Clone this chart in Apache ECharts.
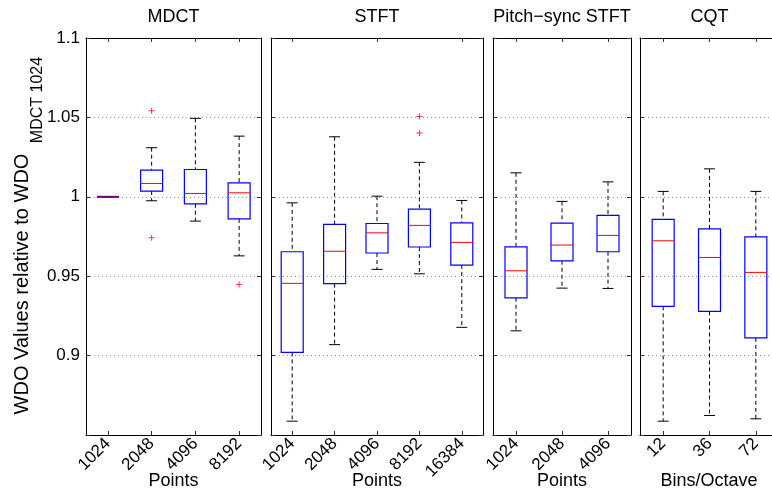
<!DOCTYPE html>
<html>
<head>
<meta charset="utf-8">
<script src="https://cdn.jsdelivr.net/npm/echarts@6/dist/echarts.min.js"></script>
<style>
  html, body { margin: 0; padding: 0; background: #fff; }
  #chart { width: 772px; height: 494px; }
</style>
</head>
<body>
<div id="chart"></div>
<script>
// box data: [low whisker, q1, median, q3, high whisker]
const mdctCats = ['1024', '2048', '4096', '8192'];
const mdctBoxes = [
  [1, 1, 1, 1, 1],
  [0.9975, 1.0036, 1.0084, 1.0168, 1.0309],
  [0.9847, 0.9956, 1.0021, 1.0172, 1.0494],
  [0.9628, 0.9861, 1.0025, 1.0088, 1.0382]
];
const mdctOutliers = [[1, 1.0542], [1, 0.9742], [3, 0.9448]];

const stftCats = ['1024', '2048', '4096', '8192', '16384'];
const stftBoxes = [
  [0.8587, 0.9020, 0.9455, 0.9654, 0.9962],
  [0.9069, 0.9453, 0.9657, 0.9826, 1.0378],
  [0.9543, 0.9646, 0.9773, 0.9832, 1.0004],
  [0.9515, 0.9684, 0.9820, 0.9923, 1.0217],
  [0.9178, 0.9570, 0.9713, 0.9836, 0.9977]
];
const stftOutliers = [[3, 1.0506], [3, 1.0401]];

const pitchCats = ['1024', '2048', '4096'];
const pitchBoxes = [
  [0.9156, 0.9364, 0.9534, 0.9685, 1.0151],
  [0.9425, 0.9597, 0.9696, 0.9834, 0.9971],
  [0.9423, 0.9654, 0.9757, 0.9883, 1.0094]
];
const pitchOutliers = [];

const cqtCats = ['12', '36', '72'];
const cqtBoxes = [
  [0.8587, 0.9310, 0.9723, 0.9858, 1.0034],
  [0.8623, 0.9278, 0.9618, 0.9798, 1.0176],
  [0.8602, 0.9112, 0.9524, 0.9748, 1.0034]
];
const cqtOutliers = [];

const yTicks = [0.9, 0.95, 1, 1.05, 1.1];

const panels = [
  { title: 'MDCT', cats: mdctCats, boxes: mdctBoxes, outliers: mdctOutliers, xname: 'Points', left: 86, width: 175 },
  { title: 'STFT', cats: stftCats, boxes: stftBoxes, outliers: stftOutliers, xname: 'Points', left: 271, width: 212 },
  { title: 'Pitch\u2212sync STFT', cats: pitchCats, boxes: pitchBoxes, outliers: pitchOutliers, xname: 'Points', left: 493, width: 138 },
  { title: 'CQT', cats: cqtCats, boxes: cqtBoxes, outliers: cqtOutliers, xname: 'Bins/Octave', left: 640, width: 139 }
];

const font = 'Liberation Sans, Arial, Helvetica, sans-serif';
const gridTop = 38, gridHeight = 397;

function renderBox(params, api) {
  const i = api.value(0);
  const lo = api.coord([i, api.value(1)]);
  const q1 = api.coord([i, api.value(2)]);
  const md = api.coord([i, api.value(3)]);
  const q3 = api.coord([i, api.value(4)]);
  const hi = api.coord([i, api.value(5)]);
  const x = lo[0], half = 11, cap = 5.5;
  const dash = { stroke: '#000', lineWidth: 1, lineDash: [4, 3] };
  const solid = { stroke: '#000', lineWidth: 1 };
  const flat = Math.abs(q1[1] - q3[1]) < 1;
  return {
    type: 'group',
    children: [
      { type: 'line', shape: { x1: x, y1: hi[1], x2: x, y2: q3[1] }, style: dash },
      { type: 'line', shape: { x1: x, y1: q1[1], x2: x, y2: lo[1] }, style: dash },
      { type: 'line', shape: { x1: x - cap, y1: hi[1], x2: x + cap, y2: hi[1] }, style: solid },
      { type: 'line', shape: { x1: x - cap, y1: lo[1], x2: x + cap, y2: lo[1] }, style: solid },
      { type: 'rect', shape: { x: x - half, y: q3[1], width: half * 2, height: q1[1] - q3[1] },
        style: { stroke: '#0000ff', fill: 'rgba(0,0,0,0)', lineWidth: 1.2 } },
      { type: 'line', shape: { x1: x - half, y1: md[1], x2: x + half, y2: md[1] },
        style: { stroke: flat ? '#800080' : '#ff0000', lineWidth: flat ? 2 : 1 } }
    ]
  };
}

const grid = [], xAxis = [], yAxis = [], series = [], graphic = [];

panels.forEach(function (p, k) {
  grid.push({ left: p.left, top: gridTop, width: p.width, height: gridHeight, outerBoundsMode: 'none', containLabel: false });
  const axisLine = { show: true, lineStyle: { color: '#000', width: 1 } };
  const tick = { show: true, inside: true, length: 4, alignWithLabel: true, lineStyle: { color: '#333' } };
  xAxis.push({
    type: 'category', gridIndex: k, data: p.cats, position: 'bottom',
    axisLine: axisLine, axisTick: tick,
    axisLabel: { rotate: 45, fontSize: 17, color: '#000', fontFamily: font, margin: 6 }
  });
  xAxis.push({
    type: 'category', gridIndex: k, data: p.cats, position: 'top',
    axisLine: axisLine, axisTick: tick, axisLabel: { show: false }
  });
  const yBase = { type: 'value', gridIndex: k, min: 0.85, max: 1.1, interval: 0.05 };
  yAxis.push(Object.assign({}, yBase, {
    position: 'left',
    axisLine: axisLine,
    axisTick: { show: true, inside: true, length: 4, lineStyle: { color: '#333' } },
    splitLine: { show: true, lineStyle: { color: '#999', type: [1, 3], width: 1 } },
    axisLabel: {
      show: k === 0, fontSize: 17, color: '#000', fontFamily: font, margin: 6,
      formatter: function (v) {
        const r = +v.toFixed(2);
        return yTicks.indexOf(r) >= 0 ? String(r) : '';
      }
    }
  }));
  yAxis.push(Object.assign({}, yBase, {
    position: 'right',
    axisLine: axisLine,
    axisTick: { show: true, inside: true, length: 4, lineStyle: { color: '#333' } },
    splitLine: { show: false }, axisLabel: { show: false }
  }));
  series.push({
    type: 'custom', xAxisIndex: k * 2, yAxisIndex: k * 2,
    renderItem: renderBox, clip: false,
    data: p.boxes.map(function (b, i) { return [i].concat(b); })
  });
  if (p.outliers.length) {
    series.push({
      type: 'scatter', xAxisIndex: k * 2, yAxisIndex: k * 2,
      symbol: 'path://M2.5,0H3.5V2.5H6V3.5H3.5V6H2.5V3.5H0V2.5H2.5Z',
      symbolSize: 6, itemStyle: { color: '#ff0000' },
      data: p.outliers
    });
  }
  // panel title
  graphic.push({
    type: 'text', x: p.left + p.width / 2, y: 17,
    style: { text: p.title, fontSize: 18, fontFamily: font, fill: '#000', textAlign: 'center', textVerticalAlign: 'middle' }
  });
  // x axis name
  graphic.push({
    type: 'text', x: k === 3 ? 709 : p.left + p.width / 2, y: 481,
    style: { text: p.xname, fontSize: 18, fontFamily: font, fill: '#000', textAlign: 'center', textVerticalAlign: 'middle' }
  });
});

graphic.push({
  type: 'text', x: 22, y: 284, rotation: Math.PI / 2,
  style: { text: 'WDO Values relative to WDO', fontSize: 20, fontFamily: font, fill: '#000', textAlign: 'center', textVerticalAlign: 'middle' }
});
graphic.push({
  type: 'text', x: 38, y: 100, rotation: Math.PI / 2,
  style: { text: 'MDCT 1024', fontSize: 16, fontFamily: font, fill: '#000', textAlign: 'center', textVerticalAlign: 'middle' }
});

const chart = echarts.init(document.getElementById('chart'), null, { renderer: 'canvas' });
chart.setOption({
  animation: false,
  backgroundColor: '#fff',
  grid: grid,
  xAxis: xAxis,
  yAxis: yAxis,
  series: series,
  graphic: graphic
});
</script>
</body>
</html>
